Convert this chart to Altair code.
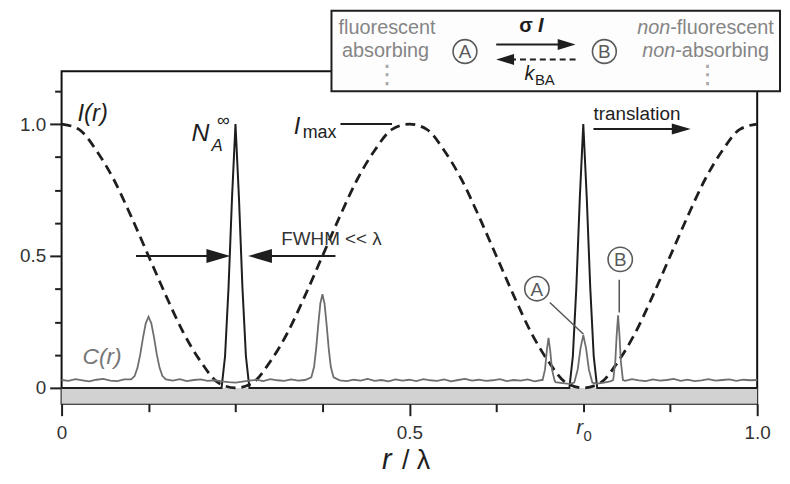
import altair as alt
import pandas as pd

# ---------------- data ----------------
# illumination profile I(r) (dashed)
i_r = [0.000, 0.025, 0.050, 0.075, 0.100, 0.125, 0.150, 0.175, 0.200, 0.225,
       0.250, 0.275, 0.300, 0.325, 0.350, 0.375, 0.400, 0.425, 0.450, 0.475,
       0.500, 0.525, 0.550, 0.575, 0.600, 0.625, 0.650, 0.675, 0.700, 0.725,
       0.750, 0.775, 0.800, 0.825, 0.850, 0.875, 0.900, 0.925, 0.950, 0.975,
       1.000]
i_val = [1.00, 0.98, 0.90, 0.79, 0.65, 0.50, 0.35, 0.21, 0.10, 0.02,
         0.00, 0.02, 0.10, 0.21, 0.35, 0.50, 0.65, 0.79, 0.90, 0.98,
         1.00, 0.98, 0.90, 0.79, 0.65, 0.50, 0.35, 0.21, 0.10, 0.02,
         0.00, 0.02, 0.10, 0.21, 0.35, 0.50, 0.65, 0.79, 0.90, 0.98,
         1.00]

# N_A^inf (black, narrow peaks at the zeros of I)
n_r = [0.000, 0.230, 0.235, 0.240, 0.245, 0.250, 0.255, 0.260, 0.265, 0.270,
       0.730, 0.735, 0.740, 0.745, 0.750, 0.755, 0.760, 0.765, 0.770, 1.000]
n_val = [0.00, 0.00, 0.12, 0.38, 0.72, 1.00, 0.72, 0.38, 0.12, 0.00,
         0.00, 0.12, 0.38, 0.72, 1.00, 0.72, 0.38, 0.12, 0.00, 0.00]

# C(r) (grey) - noisy baseline sampled every 0.01
c_base = [0.030, 0.027, 0.033, 0.029, 0.025, 0.031, 0.034, 0.028, 0.026, 0.032,
          0.029, 0.035, 0.027, 0.030, 0.024, 0.031, 0.028, 0.033, 0.026, 0.030,
          0.032, 0.027, 0.029, 0.025, 0.022, 0.020, 0.024, 0.028, 0.031, 0.026,
          0.033, 0.029, 0.027, 0.032, 0.028, 0.030, 0.025, 0.031, 0.027, 0.033,
          0.029, 0.026, 0.031, 0.028, 0.034, 0.027, 0.030, 0.025, 0.032, 0.028,
          0.031, 0.026, 0.033, 0.029, 0.027, 0.032, 0.025, 0.030, 0.034, 0.028,
          0.031, 0.027, 0.029, 0.033, 0.026, 0.030, 0.028, 0.032, 0.025, 0.030,
          0.028, 0.022, 0.018, 0.015, 0.012, 0.010, 0.012, 0.016, 0.020, 0.026,
          0.031, 0.027, 0.033, 0.029, 0.026, 0.032, 0.028, 0.030, 0.034, 0.027,
          0.031, 0.026, 0.029, 0.033, 0.028, 0.030, 0.032, 0.027, 0.031, 0.029,
          0.030]
c_base_r = [i / 100 for i in range(len(c_base))]

# C(r) peaks
c_peak1_r = [0.100, 0.105, 0.109, 0.113, 0.117, 0.121, 0.125, 0.129, 0.133, 0.137, 0.141, 0.145, 0.150]
c_peak1_v = [0.032, 0.045, 0.075, 0.125, 0.190, 0.245, 0.270, 0.245, 0.190, 0.125, 0.075, 0.045, 0.032]
c_peak2_r = [0.359, 0.363, 0.366, 0.369, 0.372, 0.375, 0.378, 0.381, 0.384, 0.387, 0.391]
c_peak2_v = [0.040, 0.080, 0.150, 0.240, 0.320, 0.355, 0.320, 0.240, 0.150, 0.080, 0.040]
c_peak3_r = [0.6915, 0.695, 0.6975, 0.700, 0.7025, 0.705, 0.7085]
c_peak3_v = [0.030, 0.070, 0.140, 0.190, 0.140, 0.070, 0.030]
c_peak4_r = [0.737, 0.742, 0.746, 0.750, 0.754, 0.758, 0.763]
c_peak4_v = [0.020, 0.070, 0.150, 0.200, 0.150, 0.070, 0.020]
c_peak5_r = [0.793, 0.796, 0.798, 0.800, 0.802, 0.804, 0.807]
c_peak5_v = [0.030, 0.100, 0.200, 0.275, 0.200, 0.100, 0.030]

# axis ticks
x_ticks = [0, 0.125, 0.25, 0.375, 0.5, 0.625, 0.75, 0.875, 1.0]
y_ticks = [0, 0.125, 0.25, 0.375, 0.5, 0.625, 0.75, 0.875, 1.0, 1.125]

# ---------------- assemble tables ----------------
peaks = [(c_peak1_r, c_peak1_v), (c_peak2_r, c_peak2_v), (c_peak3_r, c_peak3_v),
         (c_peak4_r, c_peak4_v), (c_peak5_r, c_peak5_v)]
c_rows = []
for r, v in zip(c_base_r, c_base):
    if not any(pr[0] <= r <= pr[-1] for pr, _ in peaks):
        c_rows.append((r, v))
for pr, pv in peaks:
    c_rows.extend(zip(pr, pv))
c_df = pd.DataFrame(sorted(c_rows), columns=["r", "c"])
i_df = pd.DataFrame({"r": i_r, "I": i_val})
n_df = pd.DataFrame({"r": n_r, "N": n_val})

W, H = 701, 335
FONT = "Liberation Sans"
DARK = "#1e1e1e"
GREY_T = "#858585"
X = alt.Scale(domain=[0, 1], nice=False, zero=False)
Y = alt.Scale(domain=[-0.06, 1.2], nice=False, zero=False)

major = "datum.value == 0 || datum.value == 0.5 || datum.value == 1"
lab = "datum.value == 0 ? '0' : datum.value == 0.5 ? '0.5' : datum.value == 1 ? '1.0' : ''"
x_axis = alt.Axis(
    values=x_ticks, title=None, grid=False, domain=False, labelExpr=lab,
    tickSize={"condition": {"test": major, "value": 12}, "value": 8},
    tickWidth=2, tickColor=DARK, labelFont=FONT, labelFontSize=19,
    labelColor="#333", labelPadding=8, labelFlush=False, labelOverlap=False,
)
y_axis = alt.Axis(
    values=y_ticks, title=None, grid=False, domain=False, labelExpr=lab,
    tickSize={"condition": {"test": major, "value": 12}, "value": 7},
    tickWidth=2, tickColor=DARK, labelFont=FONT, labelFontSize=19,
    labelColor="#333", labelPadding=4, labelFlush=False, labelOverlap=False,
)


def one(**cols):
    return alt.Chart(pd.DataFrame({k: [v] for k, v in cols.items()}))


def ex(f="x"):
    return alt.X(f"{f}:Q", scale=X, axis=x_axis)


def ey(f="y"):
    return alt.Y(f"{f}:Q", scale=Y, axis=y_axis)


def txt(x, y, s, size, color=DARK, style="normal", weight="normal",
        align="left", baseline="alphabetic", font=FONT, dy=0):
    return one(x=x, y=y, t=s).mark_text(
        font=font, fontSize=size, fontStyle=style, fontWeight=weight,
        align=align, baseline=baseline, color=color, dy=dy,
    ).encode(x=ex(), y=ey(), text="t:N")


def seg(x0, y0, x1, y1, color=DARK, width=2, dash=None):
    kw = dict(color=color, strokeWidth=width, strokeCap="butt")
    if dash:
        kw["strokeDash"] = dash
    return one(x=x0, y=y0, x2=x1, y2=y1).mark_rule(**kw).encode(
        x=ex(), y=ey(), x2="x2:Q", y2="y2:Q")


def head(x, y, direction, length, halfw, color=DARK):
    k = halfw / (length / 2)
    path = f"M-2,-{k:.3f}L0,0L-2,{k:.3f}Z"
    return one(x=x, y=y).mark_point(
        shape=path, size=length ** 2, filled=True, color=color, opacity=1,
        strokeWidth=0, angle=0 if direction > 0 else 180,
    ).encode(x=ex(), y=ey())


def arrow(x0, x1, y, length, halfw, dash=None, width=2):
    d = 1 if x1 > x0 else -1
    shaft_end = x1 - d * 0.5 * length / W
    return [seg(x0, y, shaft_end, y, width=width, dash=dash),
            head(x1, y, d, length, halfw)]


def circled(x, y, letter, size=600, fs=19):
    return [one(x=x, y=y).mark_point(shape="circle", size=size, filled=False,
                                     color="#5a5a5a", strokeWidth=1.6, opacity=1)
            .encode(x=ex(), y=ey()),
            txt(x, y, letter, fs, color="#5a5a5a", align="center",
                baseline="middle", dy=1)]


# ---------------- layers ----------------
band = one(x=0, x2=1, y=-0.06, y2=0).mark_rect(color="#d2d2d2").encode(
    x=ex(), x2="x2:Q", y=ey(), y2="y2:Q")

i_line = alt.Chart(i_df).mark_line(color=DARK, strokeWidth=2.8, strokeDash=[10, 6],
                                    interpolate="monotone").encode(x=ex("r"), y=ey("I"))
n_line = alt.Chart(n_df).mark_line(color=DARK, strokeWidth=2).encode(x=ex("r"), y=ey("N"))
c_line = alt.Chart(c_df).mark_line(color="#6e6e6e", strokeWidth=1.8).encode(x=ex("r"), y=ey("c"))

layers = [band, i_line, n_line, c_line]

# plot annotations
layers += [
    txt(0.0228, 1.0118, "I(r)", 24, style="italic"),
    txt(0.1868, 0.9366, "N", 25, style="italic"),
    txt(0.2154, 0.899, "A", 17, style="italic"),
    txt(0.2325, 1.0118, "∞", 18, align="center", baseline="middle"),
    txt(0.3338, 0.9629, "I", 24, style="italic"),
    txt(0.3466, 0.9478, "max", 18),
    seg(0.4009, 1.0, 0.4750, 1.0),
    txt(0.3880, 0.5416, "FWHM << λ", 19, color="#333", align="center"),
    txt(0.7646, 1.0155, "translation", 19),
    txt(0.0300, 0.0903, "C(r)", 23, color="#777", style="italic"),
    seg(0.7019, 0.3235, 0.7504, 0.2031, color="#555", width=1.5),
    seg(0.8017, 0.41, 0.8017, 0.2859, color="#555", width=1.5),
    txt(0.7447, -0.173, "r", 21, color="#333", style="italic", align="center"),
    txt(0.7504, -0.2031, "0", 15, color="#333"),
    txt(0.4608, -0.3085, "r", 29, style="italic"),
    txt(0.4893, -0.3085, "/ λ", 27),
]
layers += arrow(0.107, 0.2425, 0.5, 24, 7)
layers += arrow(0.3937, 0.2682, 0.5, 24, 7)
layers += arrow(0.7646, 0.9044, 0.9817, 19, 5.5)
layers += circled(0.6833, 0.3761, "A")
layers += circled(0.8031, 0.4871, "B")

# scheme box above the plot
layers += [
    one(x=0.3880, x2=1.0328, y=1.4293, y2=1.1246).mark_rect(
        fill="#fdfdfd", stroke=DARK, strokeWidth=2).encode(
        x=ex(), x2="x2:Q", y=ey(), y2="y2:Q"),
    txt(0.4679, 1.3428, "fluorescent", 20, color=GREY_T, align="center"),
    txt(0.4658, 1.2525, "absorbing", 20, color=GREY_T, align="center"),
    txt(0.4679, 1.1848, "⋮", 26, color="#a8a8a8", align="center", baseline="middle",
        font="DejaVu Sans"),
    txt(0.6676, 1.3503, "σ", 20, weight="bold", align="center"),
    txt(0.6890, 1.3503, "I", 20, weight="bold", style="italic", align="center"),
    txt(0.6726, 1.166, "k", 20, style="italic", align="center"),
    txt(0.6805, 1.1472, "BA", 15),
    txt(0.8750, 1.3428, "non", 20, color=GREY_T, style="italic", align="right"),
    txt(0.8750, 1.3428, "-fluorescent", 20, color=GREY_T),
    txt(0.8822, 1.2525, "non", 20, color=GREY_T, style="italic", align="right"),
    txt(0.8822, 1.2525, "-absorbing", 20, color=GREY_T),
    txt(0.9287, 1.1848, "⋮", 26, color="#a8a8a8", align="center", baseline="middle",
        font="DejaVu Sans"),
]
layers += circled(0.5799, 1.2751, "A", size=576)
layers += circled(0.7803, 1.2751, "B", size=576)
layers += arrow(0.6248, 0.7389, 1.3014, 18, 5.5)
layers += arrow(0.7389, 0.6248, 1.245, 18, 5.5, dash=[6, 4])

chart = alt.layer(*layers).properties(
    width=W, height=H,
    autosize=alt.AutoSizeParams(type="none"),
    padding={"left": 54, "top": 62, "right": 25, "bottom": 71},
).configure_view(stroke="#111", strokeWidth=2)

chart.save("out.html", embed_options={"renderer": "svg", "actions": False})
